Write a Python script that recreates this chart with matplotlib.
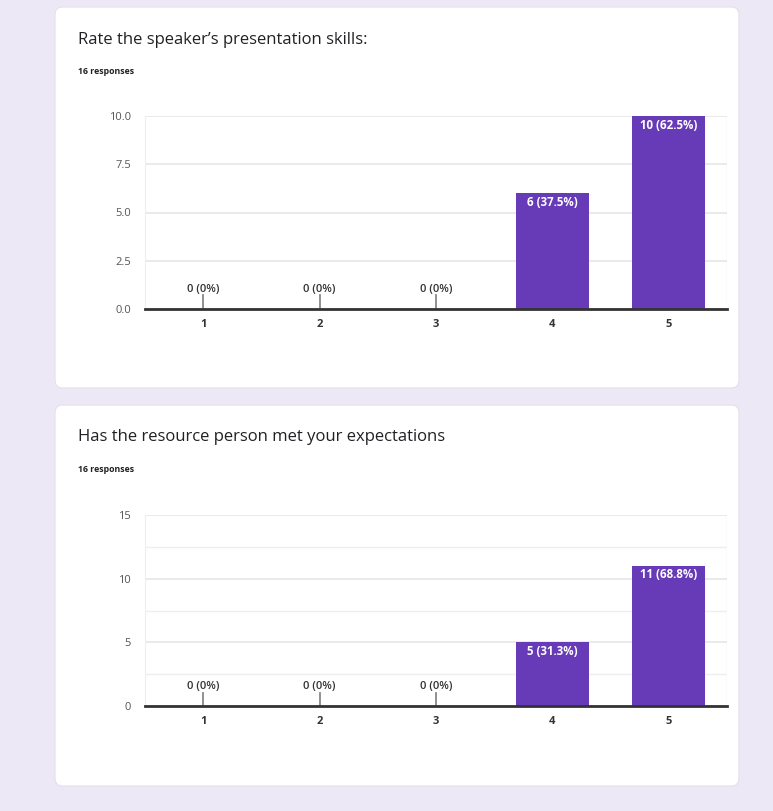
import matplotlib
matplotlib.use("Agg")
import matplotlib.pyplot as plt
from matplotlib.patches import FancyBboxPatch
from matplotlib.ticker import MultipleLocator

plt.rcParams["font.family"] = ["Open Sans", "DejaVu Sans"]

W, H = 773, 811
BG = "#ede8f6"
PURPLE = "#673ab7"

categories = ["1", "2", "3", "4", "5"]
titles = ["Rate the speaker’s presentation skills:",
          "Has the resource person met your expectations"]
responses = ["16 responses", "16 responses"]
counts_1 = [0, 0, 0, 6, 10]
pct_1 = ["0%", "0%", "0%", "37.5%", "62.5%"]
counts_2 = [0, 0, 0, 5, 11]
pct_2 = ["0%", "0%", "0%", "31.3%", "68.8%"]
yticks_1 = [0, 2.5, 5, 7.5, 10]
yticks_2 = [0, 5, 10, 15]


def fx(px):
    return px / W


def fy(py):
    return 1 - py / H


fig = plt.figure(figsize=(W / 100, H / 100), dpi=100)
fig.patch.set_facecolor(BG)

# white cards, kept behind the axes
for top, bot in [(7, 388), (405, 786)]:
    card = FancyBboxPatch((fx(55), fy(bot)), fx(739) - fx(55), fy(top) - fy(bot),
                          boxstyle="round,pad=0,rounding_size=0.01",
                          transform=fig.transFigure, facecolor="white",
                          edgecolor="#e4e0ea", lw=0.8, zorder=-10)
    fig.patches.append(card)


def bar_chart(rect, counts, pcts, yticks, fmt, minor, title, resp, ty):
    fig.text(fx(78), fy(ty), title, fontsize=12, color="#202124",
             va="center", ha="left")
    fig.text(fx(78), fy(ty + 32), resp, fontsize=6.3, color="#202124",
             va="center", ha="left", fontweight="bold")
    l, t, r, b = rect
    ax = fig.add_axes([fx(l), fy(b), fx(r) - fx(l), fy(t) - fy(b)])
    ax.set_zorder(1)
    ax.set_facecolor("white")
    x = list(range(1, len(categories) + 1))
    ymax = yticks[-1]
    ax.bar(x, counts, width=0.63, color=PURPLE, zorder=3)
    for xi, c, p in zip(x, counts, pcts):
        label = f"{c} ({p})"
        if c == 0:
            ax.plot([xi, xi], [0, ymax * 0.07], color="#888888", lw=1.3, zorder=3)
            ax.text(xi, ymax * 0.1, label, ha="center", va="center",
                    fontsize=8, color="#333333", zorder=4, fontweight="semibold")
        else:
            ax.text(xi, c - ymax * 0.047, label, ha="center", va="center",
                    fontsize=8.3, color="white", zorder=4, fontweight="bold")
    ax.set_xlim(0.5, len(categories) + 0.5)
    ax.set_ylim(0, ymax)
    ax.set_xticks(x)
    ax.set_xticklabels(categories, fontweight="bold")
    ax.set_yticks(yticks)
    ax.set_yticklabels([fmt.format(v) for v in yticks])
    if minor:
        ax.yaxis.set_minor_locator(MultipleLocator(minor))
        ax.grid(axis="y", which="minor", color="#eeeeee", lw=1, zorder=0)
    ax.grid(axis="y", which="major", color="#e6e6e6", lw=1.2, zorder=0)
    ax.axvline(len(categories) + 0.5, color="#eeeeee", lw=1, zorder=0)
    ax.tick_params(axis="both", which="both", length=0, labelsize=8,
                   colors="#555555")
    ax.tick_params(axis="y", pad=10)
    ax.tick_params(axis="x", pad=7, colors="#333333")
    for s in ["top", "right"]:
        ax.spines[s].set_visible(False)
    ax.spines["left"].set_color("#eeeeee")
    ax.spines["bottom"].set_color("#333333")
    ax.spines["bottom"].set_linewidth(2)
    ax.spines["bottom"].set_zorder(5)
    ax.set_axisbelow(True)
    return ax


bar_chart((145, 116, 727, 309), counts_1, pct_1, yticks_1, "{:.1f}", None,
          titles[0], responses[0], 40)
bar_chart((145, 515, 727, 706), counts_2, pct_2, yticks_2, "{:g}", 2.5,
          titles[1], responses[1], 437)

fig.savefig("out.png", dpi=100, facecolor=BG)
